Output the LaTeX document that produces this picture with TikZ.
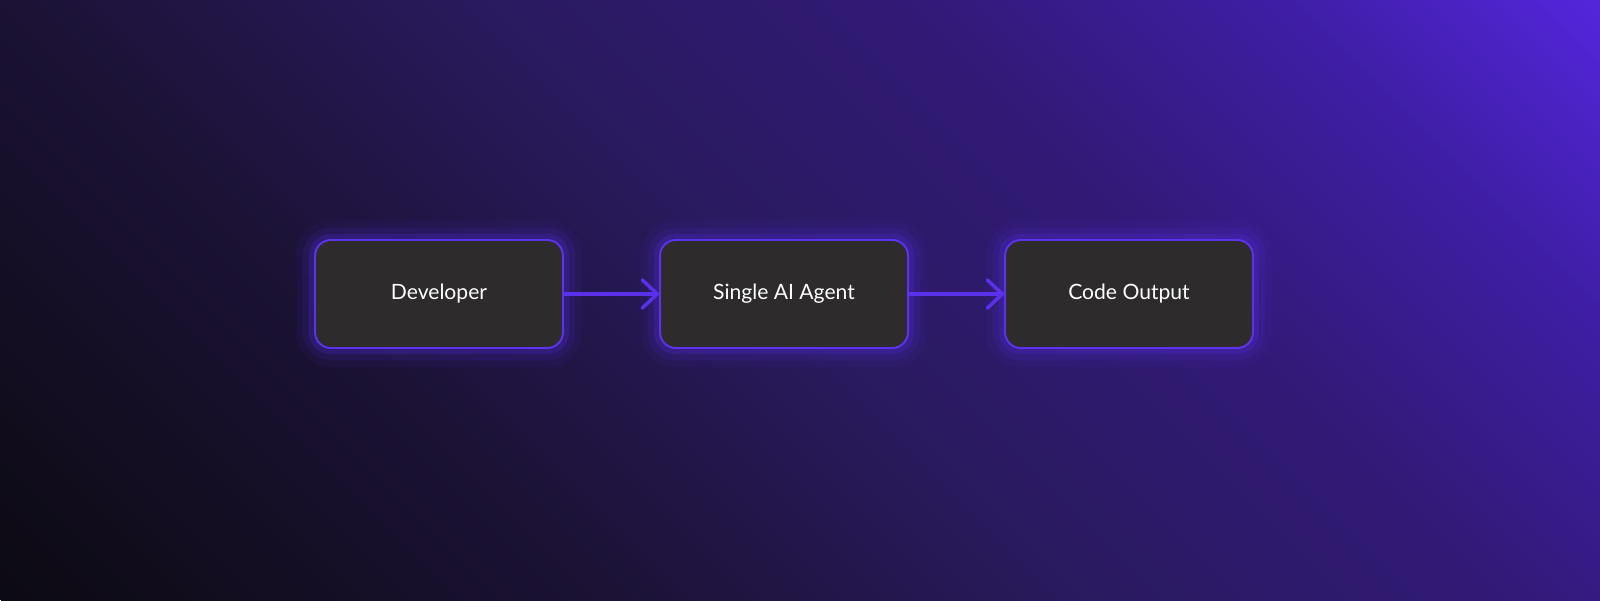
\documentclass[tikz,border=0pt]{standalone}
\usepackage{fontspec}
\setmainfont{Lato}
\usepackage{xcolor}
\usetikzlibrary{arrows.meta}

\definecolor{bg0}{HTML}{0C0A12}
\definecolor{bg1}{HTML}{1B1234}
\definecolor{bg2}{HTML}{2A1A60}
\definecolor{bg3}{HTML}{311A76}
\definecolor{bg4}{HTML}{3E1EA4}
\definecolor{bg5}{HTML}{5426DC}
\definecolor{boxfill}{HTML}{2D2B2C}
\definecolor{boxline}{HTML}{5B33EA}
\definecolor{glowc}{HTML}{5A30F0}
\definecolor{linkc}{HTML}{5A30E8}

\pgfdeclarehorizontalshading{bgshade}{46cm}{color(0cm)=(bg0); color(8.5cm)=(bg1); color(15.55cm)=(bg2); color(21.2cm)=(bg3); color(26.5cm)=(bg4); color(31.1cm)=(bg5)}

\begin{document}
\begin{tikzpicture}[
            > = {Straight Barb[length=8.5pt, width=16pt, round]}, % open chevron head
            shorten > = 0pt, % head touches the box
            stage/.style = {draw=boxline, fill=boxfill, line width=1.1pt,
                rounded corners=9pt, minimum width=4.96cm, minimum height=2.16cm,
                text=white, font=\fontsize{12}{14}\selectfont,
                preaction={draw=glowc, line width=22pt, draw opacity=.06},
                preaction={draw=glowc, line width=14pt, draw opacity=.11},
                preaction={draw=glowc, line width=7pt, draw opacity=.2}},
            link/.style = {draw=linkc, line width=2pt}
        ]

\useasboundingbox (0,0) rectangle (32,12);
\begin{scope}
\clip (0,0) rectangle (32,12);
\node[inner sep=0pt, outer sep=0pt, rotate=45] (bg) at (16,6) {\pgfuseshading{bgshade}};
\end{scope}

\node[stage] (dev) at (8.78,6.12) {Developer};
\node[stage] (agent) at (15.68,6.12) {Single AI Agent};
\node[stage] (out) at (22.58,6.12) {Code Output};

 \path [->, link] (dev) edge (agent);
 \path [->, link] (agent) edge (out);
\end{tikzpicture}
\end{document}
